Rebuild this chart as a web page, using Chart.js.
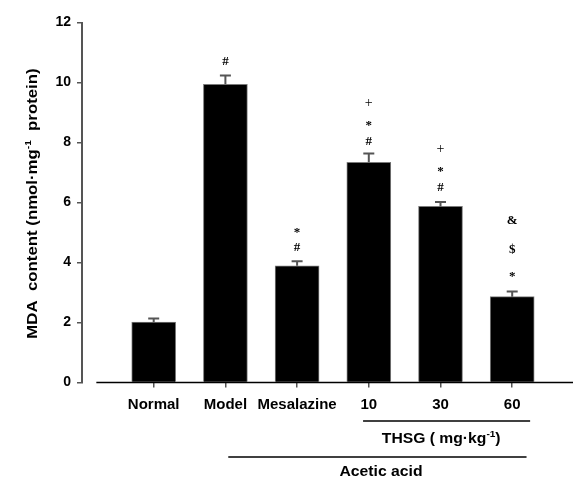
<!DOCTYPE html>
<html>
<head>
<meta charset="utf-8">
<script src="https://cdn.jsdelivr.net/npm/chart.js@4/dist/chart.umd.min.js"></script>
<style>
  html, body { margin: 0; padding: 0; background: #fff; }
  #c { display: block; }
</style>
</head>
<body>
<canvas id="c" width="573" height="483"></canvas>
<script>
// ---- data ----
const categories = ['Normal', 'Model', 'Mesalazine', '10', '30', '60'];
const mdaMean = [2.01, 9.94, 3.89, 7.34, 5.87, 2.86];
const mdaSem = [0.12, 0.29, 0.15, 0.29, 0.15, 0.17];
const marks = [[], ['#'], ['#', '*'], ['#', '*', '+'], ['#', '*', '+'], ['*', '$', '&']];
const yTickValues = [0, 2, 4, 6, 8, 10, 12];
const yTitleParts = [['MDA  content (nmol\u00b7mg', false], ['-1', true], ['  protein)', false]];
const doseTitleParts = [['THSG ( mg\u00b7kg', false], ['-1', true], [')', false]];
const groupTitle = 'Acetic acid';

// ---- style / layout (not data) ----
const SANS = '"Liberation Sans", Arial, sans-serif';
const SERIF = '"Liberation Serif", "Times New Roman", serif';
const markGap = [[15, 19], [15, 19], [15, 17], [13, 19], [15, 19], [19, 24]];
const glyphOffset = { '#': 4.5, '*': 7, '+': 4.5, '$': 4.5, '&': 4.5 };
const glyphFont = { '#': 'bold 13px ', '*': 'bold 13px ', '+': '14px ', '$': 'bold 13px ', '&': 'bold 13px ' };

function drawParts(ctx, parts, cx, cy, size, scaleX) {
  ctx.save();
  ctx.translate(cx, cy);
  ctx.scale(scaleX, 1);
  ctx.textBaseline = 'alphabetic';
  ctx.textAlign = 'left';
  let total = 0;
  const widths = parts.map(([t, sup]) => {
    ctx.font = 'bold ' + (sup ? Math.round(size * 0.62) : size) + 'px ' + SANS;
    const w = ctx.measureText(t).width;
    total += w;
    return w;
  });
  let xPos = -total / 2;
  const base = size * 0.36;
  parts.forEach(([t, sup], i) => {
    ctx.font = 'bold ' + (sup ? Math.round(size * 0.62) : size) + 'px ' + SANS;
    ctx.fillText(t, xPos, sup ? base - size * 0.42 : base);
    xPos += widths[i];
  });
  ctx.restore();
}

const overlay = {
  id: 'overlay',
  afterDraw(chart) {
    const { ctx, chartArea, scales } = chart;
    const x = scales.x, y = scales.y;
    const y0 = y.getPixelForValue(0);
    ctx.save();
    // x axis line (starts a little right of the y axis)
    ctx.strokeStyle = '#000';
    ctx.lineWidth = 1.6;
    ctx.beginPath();
    ctx.moveTo(x.getPixelForValue(0.2), y0);
    ctx.lineTo(chartArea.right, y0);
    ctx.stroke();

    // error bars
    ctx.strokeStyle = '#555';
    ctx.lineWidth = 2;
    mdaMean.forEach((m, i) => {
      const px = x.getPixelForValue(i + 1);
      const top = y.getPixelForValue(m + mdaSem[i]);
      const base = y.getPixelForValue(m);
      ctx.beginPath();
      ctx.moveTo(px, base);
      ctx.lineTo(px, top);
      ctx.moveTo(px - 5.5, top);
      ctx.lineTo(px + 5.5, top);
      ctx.stroke();
    });

    // significance marks
    ctx.fillStyle = '#000';
    ctx.textAlign = 'center';
    ctx.textBaseline = 'alphabetic';
    marks.forEach((list, i) => {
      const px = x.getPixelForValue(i + 1);
      let cy = y.getPixelForValue(mdaMean[i] + mdaSem[i]) - markGap[i][0];
      list.forEach((g, k) => {
        if (k > 0) cy -= markGap[i][1] + (i === 5 ? (k - 1) * 5 : 0);
        ctx.font = glyphFont[g] + SERIF;
        ctx.fillText(g, px, cy + glyphOffset[g]);
      });
    });

    // y axis title (rotated)
    ctx.save();
    ctx.translate(32, (chartArea.top + chartArea.bottom) / 2 + 1);
    ctx.rotate(-Math.PI / 2);
    ctx.fillStyle = '#000';
    drawParts(ctx, yTitleParts, 0, 0, 15, 1.12);
    ctx.restore();

    // dose bracket
    ctx.strokeStyle = '#000';
    ctx.lineWidth = 1.5;
    ctx.beginPath();
    ctx.moveTo(x.getPixelForValue(3.92), y0 + 38.5);
    ctx.lineTo(x.getPixelForValue(6.25), y0 + 38.5);
    ctx.stroke();
    drawParts(ctx, doseTitleParts, x.getPixelForValue(5.01), y0 + 55, 14, 1.12);

    // acetic acid bracket
    ctx.beginPath();
    ctx.moveTo(x.getPixelForValue(2.04), y0 + 74.5);
    ctx.lineTo(x.getPixelForValue(6.2), y0 + 74.5);
    ctx.stroke();
    drawParts(ctx, [[groupTitle, false]], x.getPixelForValue(4.17), y0 + 88.5, 15, 1.05);
    ctx.restore();
  }
};

new Chart(document.getElementById('c'), {
  type: 'bar',
  data: {
    datasets: [{
      data: mdaMean.map((v, i) => ({ x: i + 1, y: v })),
      backgroundColor: '#000',
      borderColor: '#7a7a7a',
      borderWidth: 1,
      barThickness: 44
    }]
  },
  options: {
    responsive: false,
    animation: false,
    devicePixelRatio: 1,
    layout: { padding: { top: 22.5, left: 0, right: 0, bottom: 0 } },
    plugins: { legend: { display: false }, tooltip: { enabled: false } },
    scales: {
      x: {
        type: 'linear',
        offset: false,
        min: 0,
        max: 6.848,
        afterBuildTicks: s => { s.ticks = categories.map((c, i) => ({ value: i + 1 })); },
        afterFit: s => { s.height = 100.5; },
        ticks: {
          callback: v => categories[v - 1],
          font: { family: SANS, size: 15, weight: 'bold' },
          color: '#000',
          padding: 8,
          autoSkip: false,
          maxRotation: 0
        },
        grid: { offset: false, drawOnChartArea: false, tickLength: 5, color: '#555', lineWidth: 1.5 },
        border: { display: false }
      },
      y: {
        min: 0,
        max: 12,
        afterBuildTicks: s => { s.ticks = yTickValues.map(v => ({ value: v })); },
        afterFit: s => { s.width = 82; },
        ticks: {
          font: { family: SANS, size: 14, weight: 'bold' },
          color: '#000',
          padding: 6
        },
        grid: { drawOnChartArea: false, tickLength: 5, color: '#555', lineWidth: 1.5 },
        border: { display: true, color: '#555', width: 2 }
      }
    }
  },
  plugins: [overlay]
});
</script>
</body>
</html>
